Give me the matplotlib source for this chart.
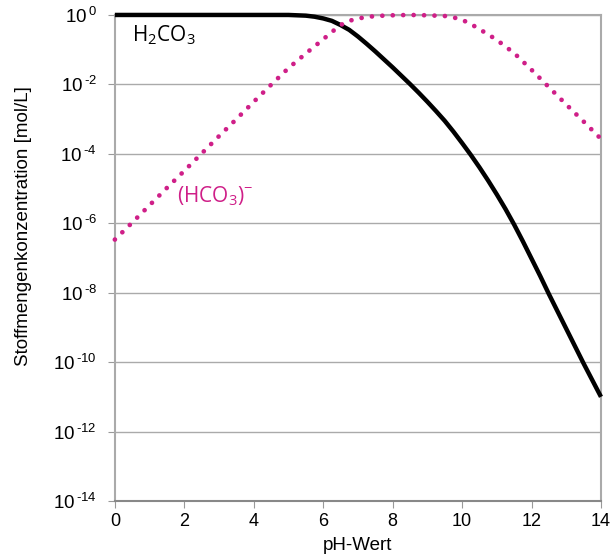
import numpy as np
import matplotlib.pyplot as plt

plt.rcParams['font.family'] = ['Liberation Sans', 'DejaVu Sans']

# pH-Werte und log10 der Konzentrationen
ph_h2co3 = [0, 1, 2, 3, 4, 5, 5.5, 5.75, 6, 6.25, 6.5, 6.75, 7, 7.25, 7.5,
            7.75, 8, 8.25, 8.5, 8.75, 9, 9.25, 9.5, 9.75, 10, 10.25, 10.5,
            10.75, 11, 11.25, 11.5, 11.75, 12, 12.25, 12.5, 13, 13.5, 14]
log_h2co3 = [0, 0, 0, 0, 0, 0, -0.02, -0.05, -0.1, -0.17, -0.29, -0.43, -0.62,
             -0.83, -1.05, -1.28, -1.51, -1.75, -1.99, -2.24, -2.5, -2.77,
             -3.05, -3.36, -3.69, -4.03, -4.39, -4.77, -5.17, -5.59, -6.04,
             -6.52, -7.02, -7.52, -8.04, -9.04, -10.04, -11.0]

ph_hco3 = [0, 0.5, 1, 1.5, 2, 2.5, 3, 3.5, 4, 4.5, 5, 5.5, 6, 6.25, 6.5,
           6.75, 7, 7.5, 8, 8.5, 9, 9.5, 9.75, 10, 10.25, 10.5, 10.75, 11,
           11.5, 12, 12.5, 13, 13.5, 14]
log_hco3 = [-6.47, -5.98, -5.48, -4.98, -4.49, -3.99, -3.49, -3.0, -2.5,
            -2.01, -1.53, -1.11, -0.7, -0.49, -0.29, -0.17, -0.1, -0.03,
            -0.01, 0, -0.01, -0.03, -0.07, -0.14, -0.26, -0.41, -0.56, -0.72,
            -1.1, -1.58, -2.08, -2.58, -3.07, -3.57]

x_ticks = [0, 2, 4, 6, 8, 10, 12, 14]
y_exps = [0, -2, -4, -6, -8, -10, -12, -14]

magenta = '#cf1f88'

fig = plt.figure(figsize=(6.11, 5.54), dpi=100)
ax = fig.add_axes([0.188, 0.0957, 0.7956, 0.8773])

ax.plot(ph_h2co3, 10.0 ** np.array(log_h2co3), color='black', lw=3.2,
        solid_capstyle='butt', solid_joinstyle='round', clip_on=False, zorder=3)
ax.plot(ph_hco3, 10.0 ** np.array(log_hco3), color=magenta, lw=3.4,
        linestyle=(0, (0.01, 2.2)), dash_capstyle='round', clip_on=False, zorder=3)

ax.set_yscale('log')
ax.set_xlim(0, 14)
ax.set_ylim(1e-14, 1e0)
ax.set_xticks(x_ticks)
ax.set_xticklabels([str(v) for v in x_ticks])
ax.set_yticks([10.0 ** e for e in y_exps])
labels = []
for e in y_exps:
    s = str(e).replace('-', '\u2010')
    labels.append(r'$\mathregular{10^{\,%s}}$' % s)
ax.set_yticklabels(labels)
ax.minorticks_off()
ax.tick_params(axis='both', color='#999999', length=5)
ax.tick_params(axis='x', labelsize=13)
ax.tick_params(axis='y', labelsize=13.5, pad=8)

ax.grid(axis='y', color='#aaaaaa', lw=1)
ax.set_axisbelow(True)
for side in ['left', 'right', 'top']:
    ax.spines[side].set_color('#aaaaaa')
    ax.spines[side].set_linewidth(1.5)
ax.spines['bottom'].set_color('#888888')
ax.spines['bottom'].set_linewidth(1.5)

ax.set_xlabel('pH-Wert', fontsize=13.5, labelpad=5)
ax.set_ylabel('Stoffmengenkonzentration [mol/L]', fontsize=13.5)
ax.yaxis.set_label_coords(-0.17, 0.566)

ax.text(0.5, 10 ** -0.75, r'H$_\mathregular{2}$CO$_\mathregular{3}$', fontsize=15,
        color='black', family=['Open Sans', 'DejaVu Sans'])
ax.text(1.8, 10 ** -5.4, r'(HCO$_\mathregular{3}$)$^\mathregular{-}$', fontsize=15,
        color=magenta, family=['Open Sans', 'DejaVu Sans'])

fig.savefig('out.png', dpi=100)
